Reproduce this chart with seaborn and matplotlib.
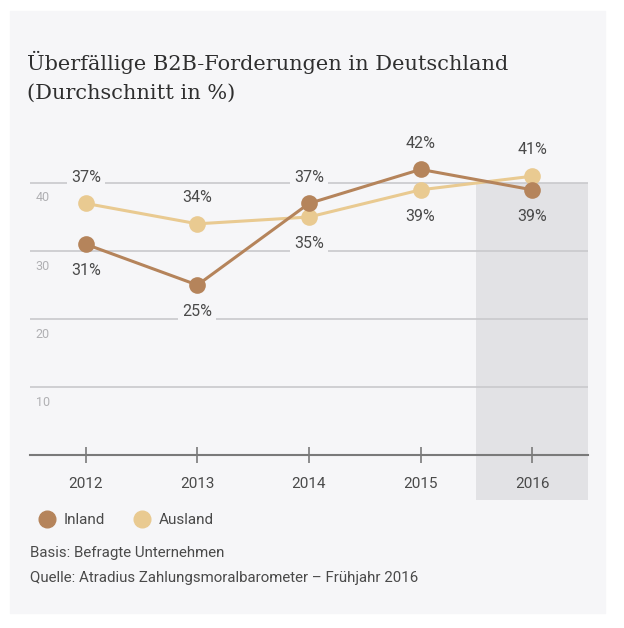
import matplotlib
matplotlib.use("Agg")
import matplotlib.pyplot as plt
from matplotlib.patches import Rectangle
from matplotlib.lines import Line2D
import seaborn as sns
import pandas as pd

# data
years = [2012, 2013, 2014, 2015, 2016]
inland = [31, 25, 37, 42, 39]
ausland = [37, 34, 35, 39, 41]
series_names = ["Inland", "Ausland"]
grid_ticks = [10, 20, 30, 40]

# which label sits above the point (+1) or below (-1)
inland_side = [-1, -1, 1, 1, -1]
ausland_side = [1, 1, -1, -1, 1]

c_inland = "#b5845b"
c_ausland = "#e9ca91"
panel = "#f6f6f8"
shade = "#e2e2e5"
txt = "#4a4a4a"

cond = ["Liberation Sans Narrow", "Roboto", "DejaVu Sans"]

df = pd.DataFrame({
    "Jahr": years * 2,
    "Wert": inland + ausland,
    "Serie": [series_names[0]] * len(years) + [series_names[1]] * len(years),
})

sns.set_style("white")
fig = plt.figure(figsize=(6.24, 6.28), dpi=100, facecolor="white")
fig.patches.append(Rectangle((10 / 624, 1 - 613 / 628), 595 / 624, 602 / 628,
                             transform=fig.transFigure, color=panel, zorder=-10))

ax = fig.add_axes([30 / 624, 1 - 500 / 628, 558 / 624, 351 / 628])
ax.set_facecolor("none")
ax.set_xlim(2011.5, 2016.5)
ax.set_ylim(-6.6, 45)

# shaded 2016 column
ax.add_patch(Rectangle((2015.5, -6.6), 1, 46.6, color=shade, zorder=0, lw=0))

for g in grid_ticks:
    ax.axhline(g, color="#c9c9cc", lw=1.2, zorder=1)
    ax.text(0.01, g - 2.2, str(g), transform=ax.get_yaxis_transform(),
            fontsize=9, color="#b0b0b3", family=cond, va="center", ha="left")

sns.lineplot(data=df, x="Jahr", y="Wert", hue="Serie",
             palette={"Inland": c_inland, "Ausland": c_ausland},
             hue_order=["Ausland", "Inland"],
             marker="o", markersize=12, markeredgewidth=0, lw=2.2,
             legend=False, ax=ax, zorder=3)

for vals, sides in [(inland, inland_side), (ausland, ausland_side)]:
    for y, v, s in zip(years, vals, sides):
        bg = shade if (y == 2016 and s < 0) else panel
        ax.annotate(f"{v}%", (y, v), xytext=(0, 19 * s), textcoords="offset points",
                    ha="center", va="center", fontsize=11.5, color=txt, family=cond,
                    bbox=dict(boxstyle="square,pad=0.25", fc=bg, ec="none"), zorder=4)

for side in ["left", "right", "top"]:
    ax.spines[side].set_visible(False)
ax.spines["bottom"].set_position(("data", 0))
ax.spines["bottom"].set_color("#7a7a7a")
ax.spines["bottom"].set_linewidth(1.5)
ax.set_xticks(years)
ax.set_xticklabels([str(y) for y in years], family=cond, fontsize=11, color=txt)
ax.tick_params(axis="x", direction="inout", length=12, width=1.2, color="#7a7a7a", pad=10,
               bottom=True)
ax.set_yticks([])
ax.set_xlabel("")
ax.set_ylabel("")

fig.text(27 / 624, 1 - 62 / 628, "Überfällige B2B-Forderungen in Deutschland",
         family="DejaVu Serif", fontsize=15, color="#2f2f2f", va="center")
fig.text(27 / 624, 1 - 93 / 628, "(Durchschnitt in %)",
         family="DejaVu Serif", fontsize=15, color="#2f2f2f", va="center")

handles = [Line2D([], [], marker="o", ls="none", color=c_inland, markersize=12),
           Line2D([], [], marker="o", ls="none", color=c_ausland, markersize=12)]
fig.legend(handles, series_names, loc="center left", bbox_to_anchor=(18 / 624, 1 - 520 / 628),
           ncol=2, frameon=False, handletextpad=0.1, columnspacing=1.4,
           prop={"family": cond, "size": 11}, labelcolor=txt)

fig.text(30 / 624, 1 - 553 / 628, "Basis: Befragte Unternehmen",
         family=cond, fontsize=10.8, color=txt, va="center")
fig.text(30 / 624, 1 - 578 / 628, "Quelle: Atradius Zahlungsmoralbarometer – Frühjahr 2016",
         family=cond, fontsize=10.8, color=txt, va="center")

fig.savefig("out.png", dpi=100, facecolor="white")
